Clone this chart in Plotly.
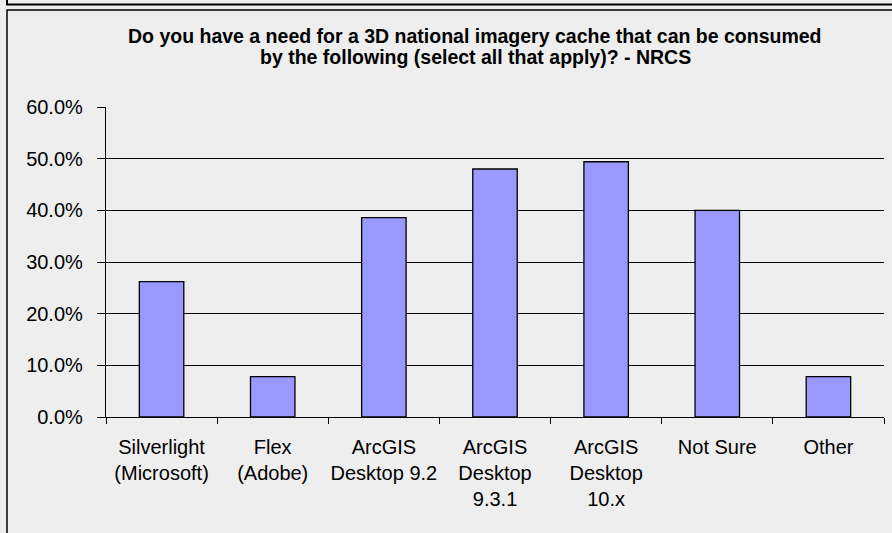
import plotly.graph_objects as go

categories = ["Silverlight (Microsoft)", "Flex (Adobe)", "ArcGIS Desktop 9.2",
              "ArcGIS Desktop 9.3.1", "ArcGIS Desktop 10.x", "Not Sure", "Other"]
tick_labels = ["Silverlight<br>(Microsoft)", "Flex<br>(Adobe)", "ArcGIS<br>Desktop 9.2",
               "ArcGIS<br>Desktop<br>9.3.1", "ArcGIS<br>Desktop<br>10.x", "Not Sure", "Other"]
values = [0.262, 0.078, 0.386, 0.480, 0.494, 0.400, 0.078]
y_ticks = [0.0, 0.1, 0.2, 0.3, 0.4, 0.5, 0.6]
title_lines = ["Do you have a need for a 3D national imagery cache that can be consumed",
               "by the following (select all that apply)? - NRCS"]

W, H = 892, 533
ML, MR, MT, MB = 106, 8, 107, 116
PW, PH = W - ML - MR, H - MT - MB


def px_x(px):
    return (px - ML) / PW


def px_y(py):
    return (H - MB - py) / PH


FONT = "Liberation Sans, Arial, sans-serif"
BG = "#EEEEEE"

fig = go.Figure(go.Bar(
    x=categories, y=values,
    marker=dict(color="#9999FF", line=dict(color="#000000", width=1.3)),
    hoverinfo="x+y",
))

title_anns = [dict(
    text="<b>" + line + "</b>",
    x=px_x(475), y=px_y(23 + 21 * i), xref="paper", yref="paper",
    xanchor="center", yanchor="top", showarrow=False,
    font=dict(family=FONT, size=19.5, color="#000"),
) for i, line in enumerate(title_lines)]

fig.update_layout(
    width=W, height=H,
    margin=dict(l=ML, r=MR, t=MT, b=MB, pad=0, autoexpand=False),
    paper_bgcolor=BG, plot_bgcolor=BG,
    bargap=0.6,
    showlegend=False,
    font=dict(family=FONT, color="#000000"),
    xaxis=dict(
        tickmode="array", tickvals=categories, ticktext=tick_labels,
        tickson="boundaries", ticks="outside", ticklen=6, tickwidth=1.3, tickcolor="#000",
        showgrid=False, showline=True, linecolor="#000", linewidth=1.3,
        tickfont=dict(family=FONT, size=20, color="#000"),
        tickangle=0, automargin=False,
        ticklabelstandoff=12,
    ),
    yaxis=dict(
        range=[0, 0.6], tickvals=y_ticks, tickformat=".1%",
        ticks="outside", ticklen=8, tickwidth=1.3, tickcolor="#000",
        showgrid=True, gridcolor="#000", gridwidth=1.3,
        showline=True, linecolor="#000", linewidth=1.3,
        zeroline=False, automargin=False,
        tickfont=dict(family=FONT, size=20, color="#000"),
        ticklabelstandoff=10,
    ),
    annotations=title_anns,
    shapes=[
        dict(type="rect", xref="paper", yref="paper",
             x0=px_x(7), x1=px_x(905), y0=px_y(545), y1=px_y(10),
             line=dict(color="#000", width=1.5), fillcolor="rgba(0,0,0,0)", layer="below"),
        dict(type="rect", xref="paper", yref="paper",
             x0=px_x(7), x1=px_x(905), y0=px_y(4.5), y1=px_y(-20),
             line=dict(color="#000", width=2), fillcolor="rgba(0,0,0,0)", layer="below"),
    ],
)

fig.write_html("out.html", config={"displayModeBar": False},
               post_script="document.body.style.margin='0px';")
